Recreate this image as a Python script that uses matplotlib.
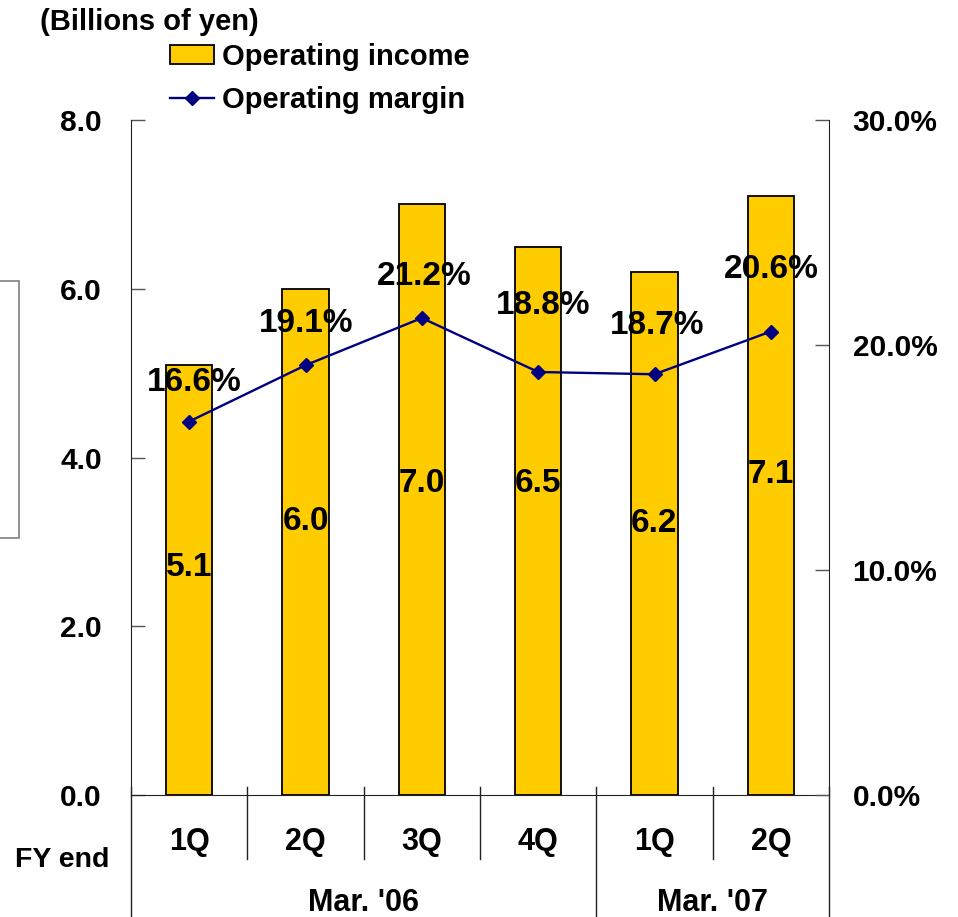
import matplotlib
matplotlib.use("Agg")
import matplotlib.pyplot as plt
from matplotlib.patches import Rectangle, Patch
from matplotlib.lines import Line2D

plt.rcParams['font.family'] = ['Liberation Sans', 'DejaVu Sans']
plt.rcParams['font.weight'] = 'bold'

# Data
quarters = ["1Q", "2Q", "3Q", "4Q", "1Q", "2Q"]
fiscal_years = ["Mar. '06", "Mar. '07"]
quarters_per_year = [4, 2]
operating_income = [5.1, 6.0, 7.0, 6.5, 6.2, 7.1]          # billions of yen
operating_margin = [16.6, 19.1, 21.2, 18.8, 18.7, 20.6]     # percent
income_ticks = [0.0, 2.0, 4.0, 6.0, 8.0]
margin_ticks = [0.0, 10.0, 20.0, 30.0]

# Label nudges (pixels) for readability
income_label_dy = [12, 20, 16, 37, 10, 21]
margin_label_dx = [5, 1, 2, 5, 3, 0]
margin_label_dy = [39, 42, 42, 66, 49, 62]

BAR_COLOR = "#FFCC00"
LINE_COLOR = "#000080"
W, H = 958, 917

fig = plt.figure(figsize=(W / 100, H / 100), dpi=100)
x0, x1, y_base, y_top = 131, 829, 795, 120
ax = fig.add_axes([x0 / W, (H - y_base) / H, (x1 - x0) / W, (y_base - y_top) / H])
ax2 = ax.twinx()

xs = list(range(len(quarters)))
ax.bar(xs, operating_income, width=0.4, color=BAR_COLOR, edgecolor="black",
       linewidth=1.3, zorder=2)
ax.set_xlim(-0.5, len(quarters) - 0.5)
ax.set_ylim(income_ticks[0], income_ticks[-1])
ax.set_yticks(income_ticks)
ax.set_yticklabels([f"{v:.1f}" for v in income_ticks])
ax.set_xticks([])

ax2.plot(xs, operating_margin, color=LINE_COLOR, linewidth=1.7, marker="D",
         markersize=7.5, zorder=3)
ax2.set_ylim(margin_ticks[0], margin_ticks[-1])
ax2.set_yticks(margin_ticks)
ax2.set_yticklabels([f"{v:.1f}%" for v in margin_ticks])

for a in (ax, ax2):
    a.spines["top"].set_visible(False)
    a.patch.set_visible(False)
ax.spines["right"].set_visible(False)
ax2.spines["left"].set_visible(False)
ax2.spines["bottom"].set_visible(False)
for sp in ("left", "bottom"):
    ax.spines[sp].set_color("#222222")
ax2.spines["right"].set_color("#222222")

ax.tick_params(axis="y", direction="in", length=10, width=1, color="#555555",
               pad=21, labelsize=21.5)
ax2.tick_params(axis="y", direction="in", length=10, width=1, color="#555555",
                pad=17, labelsize=21.5)

# Bar value labels
for xi, v, dy in zip(xs, operating_income, income_label_dy):
    ax.annotate(f"{v:.1f}", (xi, v / 2), xytext=(0, dy * 0.72),
                textcoords="offset points", ha="center", va="center",
                fontsize=24, fontweight="bold", zorder=5)

# Margin labels
for xi, m, dx, dy in zip(xs, operating_margin, margin_label_dx, margin_label_dy):
    ax2.annotate(f"{m:.1f}%", (xi, m), xytext=(dx * 0.72, dy * 0.72),
                 textcoords="offset points", ha="center", va="center",
                 fontsize=24, fontweight="bold", zorder=5)

# Category axis: quarter labels, separators, fiscal-year groups
trans = ax.get_xaxis_transform()
ah = y_base - y_top


def fy(ypix):
    return (y_base - ypix) / ah


for xi, q in zip(xs, quarters):
    ax.text(xi, fy(842), q, transform=trans, ha="center", va="center",
            fontsize=22, fontweight="bold", clip_on=False)

boundaries = []
acc = 0
for n in quarters_per_year:
    acc += n
    boundaries.append(acc - 0.5)

for b in [i + 0.5 for i in range(len(quarters) - 1)]:
    bottom = fy(H + 5) if b in boundaries else fy(859)
    ax.plot([b, b], [fy(787), bottom], transform=trans, color="#222222",
            linewidth=1, clip_on=False)
for b in (-0.5, len(quarters) - 0.5):
    ax.plot([b, b], [fy(787), fy(H + 5)], transform=trans, color="#222222",
            linewidth=1, clip_on=False)

start = -0.5
for name, n in zip(fiscal_years, quarters_per_year):
    ax.text(start + n / 2, fy(903), name, transform=trans, ha="center",
            va="center", fontsize=22, fontweight="bold", clip_on=False)
    start += n

fig.text(62 / W, 1 - 860 / H, "FY end", ha="center", va="center",
         fontsize=20.5, fontweight="bold")
fig.text(40 / W, 1 - 22 / H, "(Billions of yen)", ha="left", va="center",
         fontsize=21, fontweight="bold")

# Legend
handles = [Patch(facecolor=BAR_COLOR, edgecolor="black", linewidth=1.3),
           Line2D([], [], color=LINE_COLOR, linewidth=1.7, marker="D",
                  markersize=7.5)]
fig.legend(handles, ["Operating income", "Operating margin"],
           loc="upper left", bbox_to_anchor=(170 / W, 1 - 43 / H),
           frameon=False, prop={"weight": "bold", "size": 21},
           handlelength=1.5, handleheight=0.62, handletextpad=0.3,
           labelspacing=0.5, borderpad=0, borderaxespad=0)

# Stray frame at the left edge
fig.add_artist(Rectangle((-10 / W, 1 - 538 / H), 29 / W, 257 / H,
                         transform=fig.transFigure, fill=False,
                         edgecolor="#808080", linewidth=1.2))

fig.savefig("out.png", dpi=100)
